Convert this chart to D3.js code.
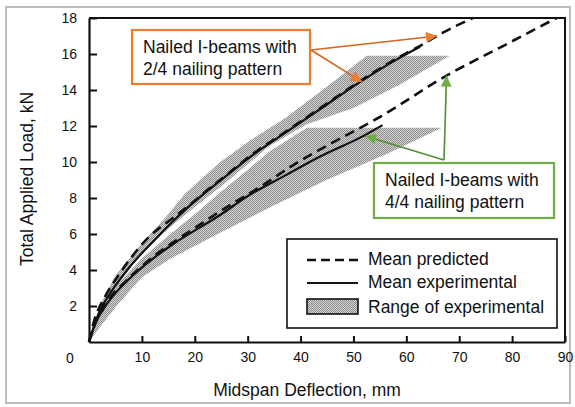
<!DOCTYPE html>
<html>
<head>
<meta charset="utf-8">
<script src="https://cdn.jsdelivr.net/npm/d3@7/dist/d3.min.js"></script>
<style>
  body { margin: 0; background: #fff; }
  svg { display: block; font-family: "Liberation Sans", Arial, Helvetica, sans-serif; }
  .tick text { font-size: 14px; fill: #111; }
</style>
</head>
<body>
<script>
// values (deflection mm, load kN)

// 2/4 nailing pattern
var pred24X = [0, 1, 3, 5.8, 8, 11.2, 15, 19, 22, 25, 31, 37.5, 44, 51, 58.8, 62.6, 67, 72.6];
var pred24Y = [0, 1.2, 2.5, 3.8, 4.7, 5.8, 6.7, 7.6, 8.35, 9.05, 10.45, 11.75, 13.05, 14.45, 15.85, 16.45, 17.2, 18];
var exp24X = [0, 2, 4, 7.5, 12.5, 18, 22, 25, 31, 37.5, 44, 51, 58.8, 62.6];
var exp24Y = [0, 1.7, 2.7, 4.1, 5.7, 7.3, 8.3, 9.0, 10.4, 11.7, 13.0, 14.4, 15.8, 16.4];
var range24TopX = [0, 2, 5, 10, 15, 18, 24.8, 31, 37.4, 45, 52.5, 68.2];
var range24TopY = [0, 2.0, 3.7, 5.5, 7.1, 8.2, 10.0, 11.3, 12.5, 14.2, 15.9, 15.9];
var range24BotX = [68.2, 58.8, 50, 41.2, 34.2, 24.8, 20, 15, 10, 5, 2, 0];
var range24BotY = [15.9, 14.3, 13.0, 12.1, 10.9, 8.6, 7.5, 6.3, 4.95, 3.1, 1.6, 0];

// 4/4 nailing pattern
var pred44X = [0, 1, 3.6, 7.4, 12.4, 16.2, 20.6, 25, 32.9, 39, 45.6, 55, 67.6, 78, 88.4];
var pred44Y = [0, 0.9, 2.3, 3.5, 4.8, 5.6, 6.45, 7.3, 8.72, 9.9, 11.0, 12.5, 14.8, 16.4, 18];
var exp44X = [0, 1, 3.6, 7.4, 12.4, 16.2, 20.6, 24.5, 29.8, 37.4, 43.7, 51.9, 55.5];
var exp44Y = [0, 0.9, 2.2, 3.45, 4.7, 5.5, 6.3, 7.0, 8.07, 9.3, 10.3, 11.45, 12.05];
var range44TopX = [0, 3, 6, 10.2, 15, 20, 24.8, 34.2, 41.2, 66.7];
var range44TopY = [0, 2.2, 3.4, 4.7, 5.9, 7.1, 8.3, 10.6, 11.9, 11.9];
var range44BotX = [66.7, 56.3, 44.9, 35, 25, 15.2, 10, 5.2, 2, 0];
var range44BotY = [11.9, 10.45, 9.0, 7.6, 6.1, 4.6, 3.6, 2.0, 0.8, 0];

var xTicks = [10, 20, 30, 40, 50, 60, 70, 80, 90];
var yTicks = [2, 4, 6, 8, 10, 12, 14, 16, 18];
var legendLabels = ["Mean predicted", "Mean experimental", "Range of experimental"];
var noteTop = ["Nailed I-beams with", "2/4 nailing pattern"];
var noteBottom = ["Nailed I-beams with", "4/4 nailing pattern"];
// arrow targets on the curves
var orangeTips = [[65.8, 17.0], [51.6, 14.45]];
var greenTips = [[67.6, 14.8], [52.2, 11.45]];

var orange = "#ED7D31", green = "#70AD47";

function zip(xs, ys) { return xs.map(function(v, i) { return [v, ys[i]]; }); }

var W = 575, H = 407;
var svg = d3.select("body").append("svg").attr("width", W).attr("height", H);

var x = d3.scaleLinear().domain([0, 90]).range([89, 565]);
var y = d3.scaleLinear().domain([0, 18]).range([342, 18]);

var defs = svg.append("defs");
var pat = defs.append("pattern").attr("id", "stip")
    .attr("width", 2).attr("height", 2).attr("patternUnits", "userSpaceOnUse");
pat.append("rect").attr("width", 2).attr("height", 2).attr("fill", "#d6d6d6");
pat.append("rect").attr("width", 1).attr("height", 1).attr("fill", "#8a8a8a");
pat.append("rect").attr("x", 1).attr("y", 1).attr("width", 1).attr("height", 1).attr("fill", "#8a8a8a");

function marker(id, col) {
  defs.append("marker").attr("id", id)
      .attr("viewBox", "0 0 10 10").attr("refX", 10).attr("refY", 5)
      .attr("markerWidth", 13).attr("markerHeight", 11)
      .attr("markerUnits", "userSpaceOnUse")
      .attr("orient", "auto")
    .append("path").attr("d", "M0,0L10,5L0,10z").attr("fill", col);
}
marker("arrO", orange);
marker("arrG", green);

// outer grey frame of the picture
svg.append("rect").attr("x", 6).attr("y", 7).attr("width", 564).attr("height", 396)
    .attr("fill", "none").attr("stroke", "#bdbdbd").attr("stroke-width", 2);

var line = d3.line().x(function(d) { return x(d[0]); }).y(function(d) { return y(d[1]); })
    .curve(d3.curveMonotoneX);
var poly = d3.line().x(function(d) { return x(d[0]); }).y(function(d) { return y(d[1]); })
    .curve(d3.curveLinearClosed);

// ranges of experimental
[[range24TopX, range24TopY, range24BotX, range24BotY],
 [range44TopX, range44TopY, range44BotX, range44BotY]].forEach(function(b) {
  var pts = zip(b[0], b[1]).concat(zip(b[2], b[3]));
  svg.append("path").attr("d", poly(pts)).attr("fill", "url(#stip)").attr("stroke", "none");
});

// mean experimental
[zip(exp24X, exp24Y), zip(exp44X, exp44Y)].forEach(function(p) {
  svg.append("path").attr("d", line(p)).attr("fill", "none")
      .attr("stroke", "#111").attr("stroke-width", 2.2);
});
// mean predicted
[zip(pred24X, pred24Y), zip(pred44X, pred44Y)].forEach(function(p) {
  svg.append("path").attr("d", line(p)).attr("fill", "none")
      .attr("stroke", "#111").attr("stroke-width", 2.6).attr("stroke-dasharray", "10,6");
});

// axes
var yAxis = svg.append("g").attr("transform", "translate(" + x(0) + ",0)")
    .call(d3.axisLeft(y).tickValues(yTicks).tickSize(-8).tickSizeOuter(0).tickPadding(12));
var xAxis = svg.append("g").attr("transform", "translate(0," + y(0) + ")")
    .call(d3.axisBottom(x).tickValues(xTicks).tickSize(-6).tickSizeOuter(0).tickPadding(10));
[yAxis, xAxis].forEach(function(g) {
  g.select(".domain").attr("stroke", "#111").attr("stroke-width", 2.2);
  g.selectAll(".tick line").attr("stroke", "#111").attr("stroke-width", 2);
  g.selectAll("text").style("font-size", "14px").attr("fill", "#111");
});
// top and right frame
svg.append("path")
    .attr("d", "M" + x(0) + "," + y(18) + "H" + x(90) + "V" + y(0))
    .attr("fill", "none").attr("stroke", "#111").attr("stroke-width", 2);

// shared zero at the corner
svg.append("text").attr("x", 70).attr("y", 363).attr("text-anchor", "middle")
    .style("font-size", "14px").attr("fill", "#111").text("0");

// axis titles
svg.append("text").attr("x", 307).attr("y", 396).attr("text-anchor", "middle")
    .style("font-size", "17.5px").attr("fill", "#111").text("Midspan Deflection, mm");
svg.append("text").attr("transform", "translate(33,179) rotate(-90)").attr("text-anchor", "middle")
    .style("font-size", "17.5px").attr("fill", "#111").text("Total Applied Load, kN");

// legend
var lg = svg.append("g");
lg.append("rect").attr("x", 287).attr("y", 239).attr("width", 270).attr("height", 89)
    .attr("fill", "#fff").attr("stroke", "#111").attr("stroke-width", 1.6);
lg.append("line").attr("x1", 307).attr("x2", 358).attr("y1", 260).attr("y2", 260)
    .attr("stroke", "#111").attr("stroke-width", 2.6).attr("stroke-dasharray", "9,5");
lg.append("line").attr("x1", 307).attr("x2", 358).attr("y1", 283).attr("y2", 283)
    .attr("stroke", "#111").attr("stroke-width", 2.2);
lg.append("rect").attr("x", 307).attr("y", 299).attr("width", 51).attr("height", 15)
    .attr("fill", "url(#stip)").attr("stroke", "#111").attr("stroke-width", 1.6);
lg.selectAll("text.lab").data(legendLabels).enter().append("text")
    .attr("class", "lab").attr("x", 368)
    .attr("y", function(d, i) { return [265, 288, 313][i]; })
    .style("font-size", "17.5px").attr("fill", "#111").text(function(d) { return d; });

// annotation boxes
function note(bx, by, bw, bh, col, lines) {
  svg.append("rect").attr("x", bx).attr("y", by).attr("width", bw).attr("height", bh)
      .attr("fill", "#fff").attr("stroke", col).attr("stroke-width", 2.2);
  lines.forEach(function(t, i) {
    svg.append("text").attr("x", bx + 11).attr("y", by + 23 + i * 22)
        .style("font-size", "17.5px").attr("fill", "#111").text(t);
  });
}
note(132, 30, 178, 54, orange, noteTop);
note(374, 163, 180, 55, green, noteBottom);

orangeTips.forEach(function(t) {
  svg.append("line").attr("x1", 311).attr("y1", 50).attr("x2", x(t[0])).attr("y2", y(t[1]))
      .attr("stroke", "#d5651f").attr("stroke-width", 1.6).attr("marker-end", "url(#arrO)");
});
greenTips.forEach(function(t) {
  svg.append("line").attr("x1", 444).attr("y1", 160).attr("x2", x(t[0])).attr("y2", y(t[1]))
      .attr("stroke", "#4f8f30").attr("stroke-width", 1.6).attr("marker-end", "url(#arrG)");
});
</script>
</body>
</html>
